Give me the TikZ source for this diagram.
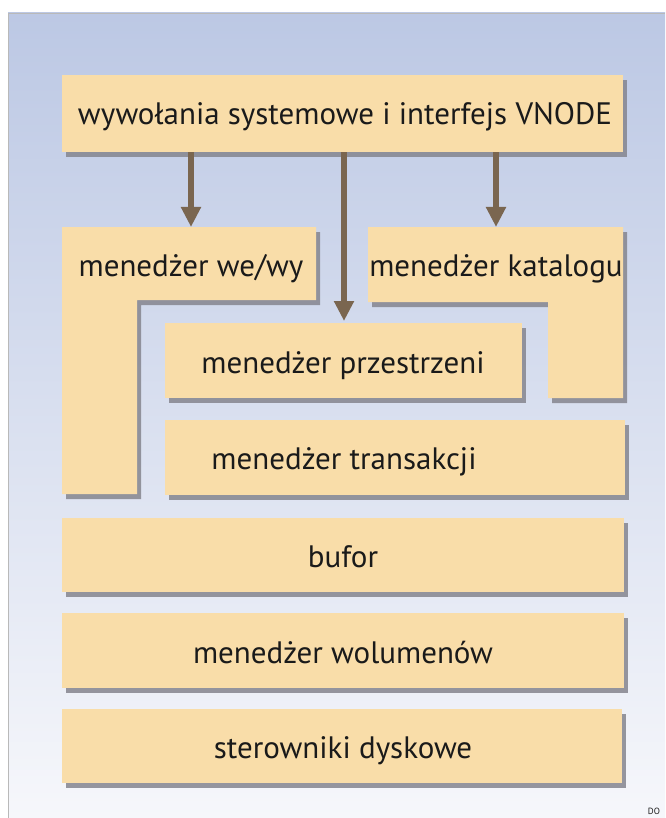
\documentclass[tikz,border=0pt]{standalone}
\usepackage{fontspec}
\setmainfont{PT Sans}
\usetikzlibrary{arrows.meta,calc,shadows}
\definecolor{boxfill}{HTML}{F9DDA9}
\definecolor{bgtop}{HTML}{BCC8E4}
\definecolor{bgbot}{HTML}{F6F7FB}
\definecolor{arrowc}{HTML}{7A6650}
\definecolor{shadowc}{HTML}{85858E}
\definecolor{txt}{HTML}{1A1A1A}
\tikzset{
  shd/.style={drop shadow={shadow xshift=4pt, shadow yshift=-5pt, fill=shadowc, opacity=0.85}},
  blk/.style={fill=boxfill, draw=none, shd, inner sep=0pt, anchor=north west},
  lbl/.style={font=\fontsize{31}{34}\selectfont, text=txt, inner sep=0pt, anchor=base},
  arr/.style={draw=arrowc, line width=6pt, -{Triangle[length=20pt,width=19pt]}}
}
\begin{document}
\begin{tikzpicture}[x=1pt,y=-1pt]
\useasboundingbox (0,0) rectangle (665,818);
\shade[top color=bgtop, bottom color=bgbot] (8,13) rectangle (665,818);
\draw[gray!55, line width=0.8pt] (8,818) -- (8,13) -- (665,13);

% top box
\node[blk, minimum width=561pt, minimum height=77pt] (top) at (62,75) {};
\node[lbl] (toplbl) at (345,125) {wywołania systemowe i interfejs VNODE};

% L-shaped blocks
\fill[boxfill, shd] (62,227) -- (316,227) -- (316,300) -- (137,300) -- (137,494) -- (62,494) -- cycle;
\node[lbl] (wewy) at (191,276) {menedżer we/wy};
\fill[boxfill, shd] (368,227) -- (623,227) -- (623,398) -- (548,398) -- (548,302) -- (368,302) -- cycle;
\node[lbl] (katalog) at (496,276) {menedżer katalogu};

% middle boxes
\node[blk, minimum width=357pt, minimum height=75pt] (prz) at (165,323) {};
\node[lbl] (przlbl) at (343,373) {menedżer przestrzeni};
\node[blk, minimum width=460pt, minimum height=75pt] (tra) at (165,420) {};
\node[lbl] (tralbl) at (344,469) {menedżer transakcji};

% bottom boxes
\node[blk, minimum width=562pt, minimum height=74pt] (buf) at (62,518) {};
\node[lbl] (buflbl) at (343,567) {bufor};
\node[blk, minimum width=562pt, minimum height=75pt] (wol) at (62,613) {};
\node[lbl] (wollbl) at (343,663) {menedżer wolumenów};
\node[blk, minimum width=560pt, minimum height=74pt] (ster) at (62,709) {};
\node[lbl] (sterlbl) at (343,758) {sterowniki dyskowe};

% arrows
\coordinate (t1) at (191,227);
\coordinate (t2) at (344,321);
\coordinate (t3) at (496,227);
\draw[arr] (top.south -| t1) -- (t1);
\draw[arr] (top.south -| t2) -- (t2);
\draw[arr] (top.south -| t3) -- (t3);

\node[font=\fontsize{9}{9}\selectfont, text=txt, inner sep=0pt] (logo) at (654,811) {DO};
\end{tikzpicture}
\end{document}
